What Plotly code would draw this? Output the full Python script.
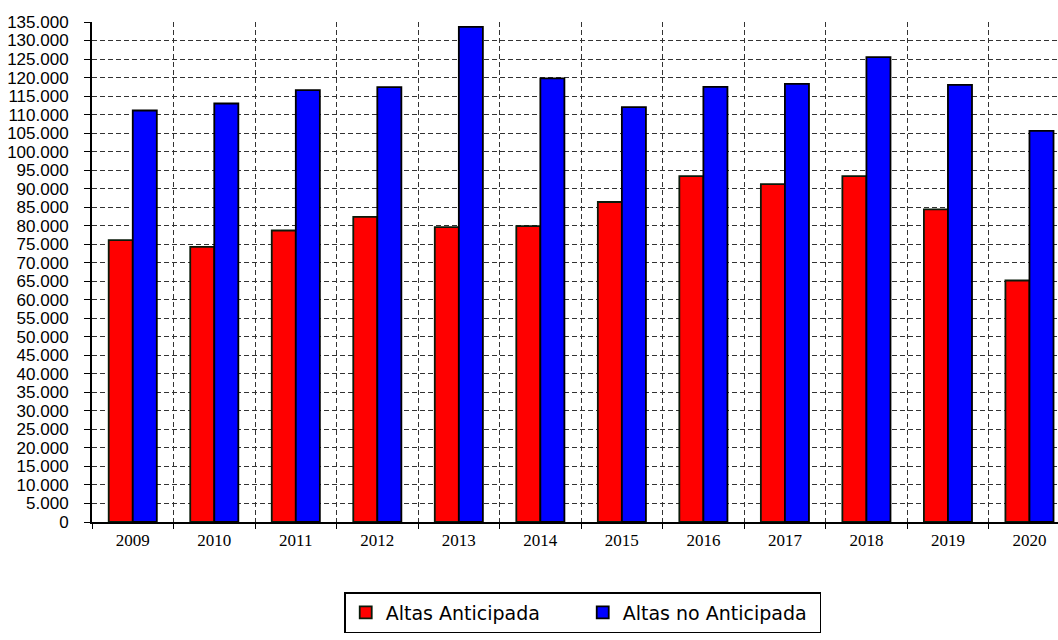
import plotly.graph_objects as go

years = ["2009", "2010", "2011", "2012", "2013", "2014", "2015", "2016", "2017", "2018", "2019", "2020"]
altas_anticipada = [76100, 74300, 78700, 82400, 79600, 79900, 86400, 93400, 91200, 93400, 84400, 65200]
altas_no_anticipada = [111100, 113000, 116600, 117400, 133700, 119800, 112000, 117500, 118300, 125500, 118000, 105600]
y_ticks = list(range(0, 135001, 5000))

fig = go.Figure()
fig.add_trace(go.Bar(
    x=years, y=altas_anticipada, name="Altas Anticipada",
    marker=dict(color="#ff0000", line=dict(color="#0a1a0a", width=1.8)),
))
fig.add_trace(go.Bar(
    x=years, y=altas_no_anticipada, name="Altas no Anticipada",
    marker=dict(color="#0000ff", line=dict(color="#000000", width=1.8)),
))

fig.update_layout(
    width=1058, height=640,
    margin=dict(l=92, r=0, t=22, b=118),
    paper_bgcolor="white", plot_bgcolor="white",
    barmode="group", bargap=0.41, bargroupgap=0,
    separators=",.",
    showlegend=True,
    legend=dict(
        orientation="h", x=0.508, xanchor="center", y=-0.14, yanchor="top",
        bordercolor="#000000", borderwidth=1.5, bgcolor="white",
        font=dict(family="DejaVu Sans, Arial", size=19, color="black"),
        itemwidth=30, traceorder="normal",
        entrywidth=192, entrywidthmode="pixels",
    ),
)
fig.update_xaxes(
    type="category", range=[-0.5, 11.35],
    tickson="boundaries", ticks="outside", ticklen=5, tickcolor="black",
    showgrid=True, gridcolor="#333333", griddash="5px,3px", gridwidth=1,
    showline=True, linecolor="black", linewidth=2,
    tickfont=dict(family="Liberation Serif, Times New Roman", size=17, color="black"),
    ticklabelstandoff=2, automargin=False,
    fixedrange=True,
)
fig.update_yaxes(
    range=[0, 135000], tickvals=y_ticks, tickformat=",.0f",
    ticks="outside", ticklen=6, tickcolor="black",
    showgrid=True, gridcolor="#333333", griddash="5px,3px", gridwidth=1,
    showline=True, linecolor="black", linewidth=2, zeroline=False,
    tickfont=dict(family="Liberation Sans, Arial", size=17, color="black"),
    ticklabelstandoff=12, automargin=False,
)

fig.write_html(
    "out.html",
    config={"displayModeBar": False},
    post_script="document.body.style.margin='0';document.body.style.overflow='hidden';",
)
